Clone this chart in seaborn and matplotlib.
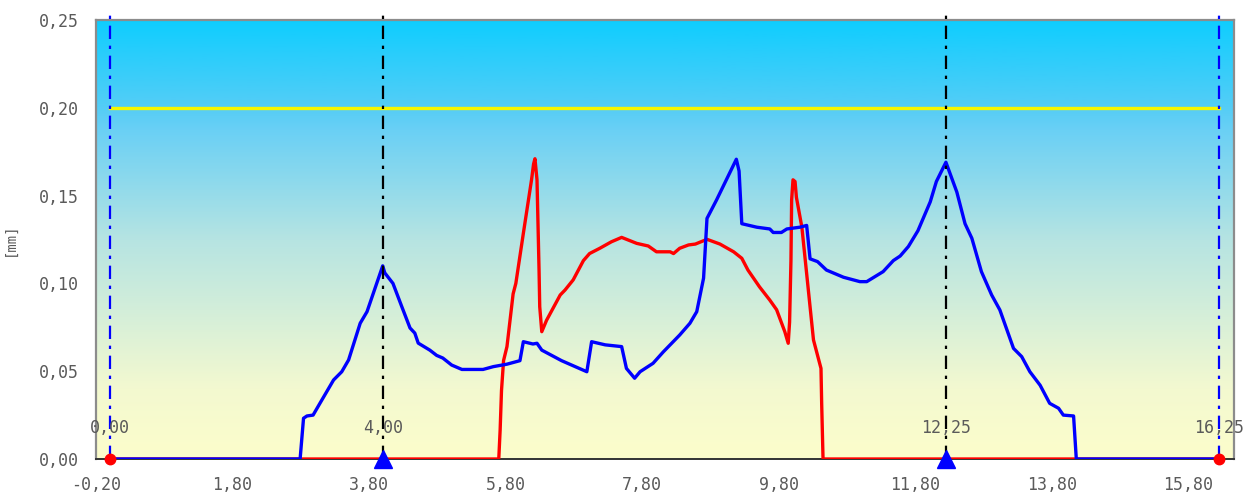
import numpy as np
import pandas as pd
import matplotlib
matplotlib.use("Agg")
import matplotlib.pyplot as plt
from matplotlib.colors import LinearSegmentedColormap
from matplotlib.ticker import FuncFormatter, FixedLocator
import seaborn as sns

# blue profile (x in m, y in mm)
blue_x = [0.00, 2.79, 2.84, 2.89, 2.98, 3.08, 3.28, 3.40, 3.50, 3.67, 3.77, 4.00, 4.03,
          4.15, 4.28, 4.40, 4.47, 4.52, 4.69, 4.79, 4.88, 5.01, 5.16, 5.47, 5.62, 5.82,
          6.01, 6.06, 6.20, 6.26, 6.33, 6.62, 6.99, 7.06, 7.26, 7.50, 7.57, 7.69, 7.77,
          7.96, 8.11, 8.35, 8.50, 8.60, 8.70, 8.75, 8.89, 9.18, 9.22, 9.26, 9.48, 9.67,
          9.72, 9.84, 9.92, 10.11, 10.21, 10.26, 10.37, 10.50, 10.75, 10.99, 11.09, 11.33,
          11.48, 11.58, 11.70, 11.84, 12.02, 12.11, 12.25, 12.41, 12.53, 12.63, 12.77,
          12.92, 13.04, 13.24, 13.36, 13.48, 13.63, 13.77, 13.90, 13.97, 14.12, 14.16, 16.25]
blue_y = [0.0, 0.0, 0.0232, 0.0245, 0.025, 0.0317, 0.045, 0.0497, 0.0564, 0.0773, 0.0839, 0.110, 0.106,
          0.100, 0.0867, 0.0746, 0.0717, 0.066, 0.062, 0.059, 0.0575, 0.0535, 0.051, 0.051, 0.0526, 0.054,
          0.056, 0.0668, 0.0655, 0.0659, 0.062, 0.056, 0.0497, 0.0668, 0.065, 0.064, 0.0516, 0.046, 0.0497,
          0.0545, 0.061, 0.0706, 0.0773, 0.0839, 0.103, 0.137, 0.1475, 0.1707, 0.164, 0.134, 0.132, 0.131,
          0.129, 0.129, 0.131, 0.132, 0.133, 0.114, 0.1124, 0.1076, 0.1035, 0.101, 0.101, 0.1067,
          0.113, 0.1156, 0.121, 0.130, 0.1464, 0.158, 0.169, 0.152, 0.134, 0.1257, 0.1067,
          0.0934, 0.0849, 0.063, 0.0583, 0.0497, 0.042, 0.0317, 0.0289, 0.025, 0.0245, 0.0, 0.0]

# red profile
red_x = [0.00, 5.70, 5.72, 5.74, 5.77, 5.82, 5.91, 5.95, 6.06, 6.18, 6.21, 6.23, 6.26, 6.29,
         6.30, 6.33, 6.40, 6.60, 6.67, 6.79, 6.94, 7.03, 7.18, 7.35, 7.50, 7.72, 7.89, 8.01,
         8.21, 8.26, 8.35, 8.48, 8.58, 8.75, 8.94, 9.14, 9.26, 9.35, 9.52, 9.67, 9.77, 9.89,
         9.94, 9.96, 9.98, 9.99, 10.01, 10.04, 10.06, 10.14, 10.31, 10.42, 10.43, 10.45, 16.25]
red_y = [0.0, 0.0, 0.0165, 0.039, 0.056, 0.064, 0.094, 0.100, 0.1285, 0.159, 0.168, 0.171, 0.159, 0.1076,
         0.0867, 0.0725, 0.079, 0.0934, 0.0962, 0.102, 0.113, 0.117, 0.120, 0.1237, 0.1262, 0.1228, 0.1213, 0.118,
         0.118, 0.117, 0.120, 0.1219, 0.1224, 0.1251, 0.1224, 0.118, 0.1143, 0.1076, 0.098, 0.0905, 0.085, 0.0725,
         0.0659, 0.078, 0.113, 0.1475, 0.159, 0.158, 0.149, 0.132, 0.0678, 0.0516, 0.0317, 0.0, 0.0]

limit_value = 0.20
end_marks = [0.00, 16.25]      # red dots / blue dash-dot
mid_marks = [4.00, 12.25]      # blue triangles / black dash-dot
mark_labels = ["0,00", "4,00", "12,25", "16,25"]
mark_pos = [0.00, 4.00, 12.25, 16.25]
x_ticks = [-0.20, 1.80, 3.80, 5.80, 7.80, 9.80, 11.80, 13.80, 15.80]
y_ticks = [0.00, 0.05, 0.10, 0.15, 0.20, 0.25]

df_blue = pd.DataFrame({"x": blue_x, "y": blue_y})
df_red = pd.DataFrame({"x": red_x, "y": red_y})

fig = plt.figure(figsize=(12.58, 4.96), dpi=100)
ax = fig.add_axes([96 / 1258, 1 - 459 / 496, (1234 - 96) / 1258, (459 - 20) / 496])

# gradient background
cmap = LinearSegmentedColormap.from_list(
    "bg", [(0.0, "#fcfdcb"), (0.16, "#f3f9d0"), (0.5, "#b6e4e2"),
           (0.75, "#6ad0f5"), (0.8, "#55cdf6"), (1.0, "#0fcdff")])
grad = np.linspace(0, 1, 256).reshape(-1, 1)
ax.imshow(grad, cmap=cmap, origin="lower", aspect="auto",
          extent=[0, 1, 0, 1], transform=ax.transAxes, zorder=0)

ax.plot([0, 16.25], [limit_value, limit_value], color="#f7f700", lw=2.4, zorder=2)

sns.lineplot(data=df_red, x="x", y="y", sort=False, estimator=None, color="#ff0000",
             lw=2.4, ax=ax, zorder=3)
sns.lineplot(data=df_blue, x="x", y="y", sort=False, estimator=None, color="#0000ff",
             lw=2.4, ax=ax, zorder=4)

dd = (0, (6, 3, 1.5, 3))
for xv in end_marks:
    ax.plot([xv, xv], [0, 0.2545], color="#0000ff", lw=1.6, ls=dd, zorder=5, clip_on=False)
for xv in mid_marks:
    ax.plot([xv, xv], [0, 0.2545], color="black", lw=1.6, ls=dd, zorder=5, clip_on=False)

ax.plot(end_marks, [0, 0], "o", color="#ff0000", ms=7.5, zorder=7, clip_on=False)
ax.plot(mid_marks, [0, 0], "^", color="#0000ff", ms=13, zorder=7, clip_on=False)

for xv, lab in zip(mark_pos, mark_labels):
    ax.text(xv, 0.0175, lab, ha="center", va="center", fontsize=12,
            family="DejaVu Sans Mono", color="#5a5a5a", zorder=6)

ax.set_xlim(-0.2, 16.47)
ax.set_ylim(0, 0.25)
fmt = FuncFormatter(lambda v, p: f"{v:.2f}".replace(".", ","))
ax.xaxis.set_major_locator(FixedLocator(x_ticks))
ax.yaxis.set_major_locator(FixedLocator(y_ticks))
ax.xaxis.set_major_formatter(fmt)
ax.yaxis.set_major_formatter(fmt)
ax.tick_params(axis="x", length=0, pad=12, labelsize=12, labelcolor="#5a5a5a")
ax.tick_params(axis="y", length=0, pad=12, labelsize=12, labelcolor="#5a5a5a")
for lab in ax.get_xticklabels() + ax.get_yticklabels():
    lab.set_family("DejaVu Sans Mono")
ax.set_xlabel("")
ax.set_ylabel("[mm]", fontsize=10, color="#5a5a5a", family="DejaVu Sans Mono")
ax.yaxis.set_label_coords(-0.07, 0.5)

for s in ["top", "left", "right"]:
    ax.spines[s].set_color("#8c8c8c")
    ax.spines[s].set_linewidth(1.6)
ax.spines["bottom"].set_color("#333333")
ax.spines["bottom"].set_linewidth(1.4)

fig.savefig("out.png", dpi=100)
